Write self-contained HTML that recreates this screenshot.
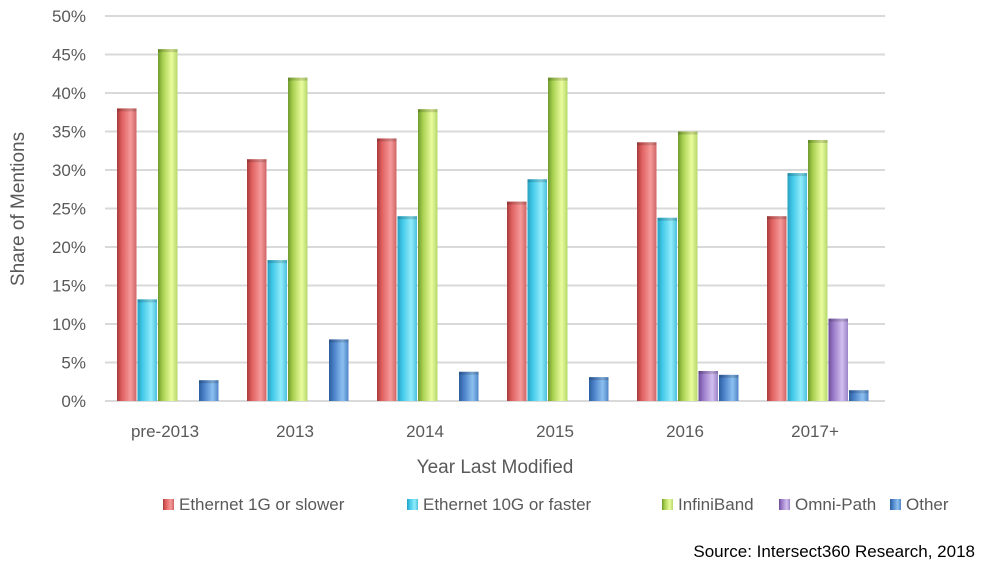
<!DOCTYPE html>
<html><head><meta charset="utf-8"><style>
body{margin:0;background:#fff;width:1000px;height:567px;overflow:hidden;font-family:"Liberation Sans",sans-serif}
</style></head><body>
<svg width="1000" height="567" xmlns="http://www.w3.org/2000/svg">
<defs>
<linearGradient id="g0" x1="0" x2="1"><stop offset="0" stop-color="#a83b3b"/><stop offset="0.25" stop-color="#e06060"/><stop offset="0.7" stop-color="#f59a9a"/><stop offset="1" stop-color="#d06565"/></linearGradient>
<linearGradient id="g1" x1="0" x2="1"><stop offset="0" stop-color="#2a9fc0"/><stop offset="0.25" stop-color="#40c8e8"/><stop offset="0.7" stop-color="#90ecfb"/><stop offset="1" stop-color="#4cc0dc"/></linearGradient>
<linearGradient id="g2" x1="0" x2="1"><stop offset="0" stop-color="#6f9a2e"/><stop offset="0.25" stop-color="#a8d050"/><stop offset="0.7" stop-color="#eafc9e"/><stop offset="1" stop-color="#b5d86a"/></linearGradient>
<linearGradient id="g3" x1="0" x2="1"><stop offset="0" stop-color="#6a4d9a"/><stop offset="0.25" stop-color="#9a7ac8"/><stop offset="0.7" stop-color="#d2bff0"/><stop offset="1" stop-color="#9c84c8"/></linearGradient>
<linearGradient id="g4" x1="0" x2="1"><stop offset="0" stop-color="#2c5f9e"/><stop offset="0.25" stop-color="#4a80c8"/><stop offset="0.7" stop-color="#8cc0f0"/><stop offset="1" stop-color="#4f85c8"/></linearGradient>
</defs>
<g id="grid"></g><g id="bars"></g><g id="labels"></g>
<text x="0" y="0" transform="translate(24,209) rotate(-90)" text-anchor="middle" font-size="19" fill="#595959">Share of Mentions</text>
<text x="495" y="473" text-anchor="middle" font-size="19" fill="#595959">Year Last Modified</text>
<g id="legend" font-size="17" fill="#595959"></g>
<text x="975" y="557" text-anchor="end" font-size="17" fill="#000">Source: Intersect360 Research, 2018</text>
</svg>
<script>
const categories=["pre-2013","2013","2014","2015","2016","2017+"];
const seriesNames=["Ethernet 1G or slower","Ethernet 10G or faster","InfiniBand","Omni-Path","Other"];
const eth1g=[38,31.4,34.1,25.9,33.6,24];
const eth10g=[13.2,18.3,24,28.8,23.8,29.6];
const infiniband=[45.7,42,37.9,42,35,33.9];
const omnipath=[0,0,0,0,3.9,10.7];
const other=[2.7,8,3.8,3.1,3.4,1.4];
const yTicks=[0,5,10,15,20,25,30,35,40,45,50];
const series=[eth1g,eth10g,infiniband,omnipath,other];
const NS="http://www.w3.org/2000/svg";
const x0=105,catW=130,y0=401,pxPer=7.7,barW=20.5,off=12;
const y=v=>y0-v*pxPer;
function mk(t,a,p){const e=document.createElementNS(NS,t);for(const k in a)e.setAttribute(k,a[k]);p.appendChild(e);return e;}
const grid=document.getElementById('grid'),bars=document.getElementById('bars'),labels=document.getElementById('labels'),legend=document.getElementById('legend');
yTicks.forEach(t=>{
 const l=mk('line',{x1:x0,x2:x0+catW*categories.length,y1:y(t),y2:y(t),stroke:'#d9d9d9','stroke-width':2},grid);
 
 
 const tx=mk('text',{x:86,y:y(t)+6,'text-anchor':'end','font-size':17,fill:'#595959'},labels);
 tx.textContent=t+'%';
 
 
});
categories.forEach((c,i)=>{
 const tx=mk('text',{x:x0+catW*i+60,y:437,'text-anchor':'middle','font-size':17,fill:'#595959'},labels);
 tx.textContent=c;
 
 
 series.forEach((s,j)=>{
  const v=s[i]; if(!v) return;
  const bx=x0+catW*i+off+j*barW, by=y(v), h=y0-by;
  const r=mk('rect',{x:bx,y:by,width:barW-1,height:h,fill:'url(#g'+j+')'},bars);
  
  
  mk('rect',{x:bx,y:by,width:barW-1,height:Math.min(3,h),fill:'rgba(0,0,0,0.15)'},bars);
 });
});
const lx=[163,407,662,779,890];
seriesNames.forEach((n,j)=>{
 const g=mk('g',{},legend);
 
 
 mk('rect',{x:lx[j],y:499,width:11,height:11,fill:'url(#g'+j+')'},g);
 const t=mk('text',{x:lx[j]+16,y:510},g);t.textContent=n;
});
</script>
</body></html>
